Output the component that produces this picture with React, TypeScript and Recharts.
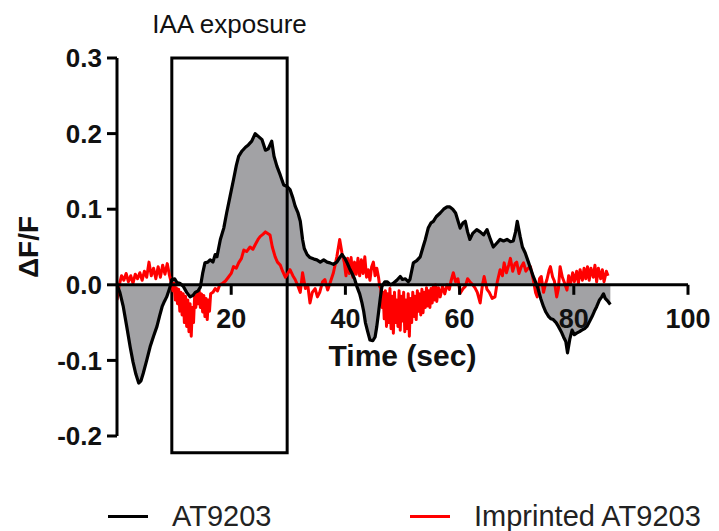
import { Area, ComposedChart, Line, ReferenceArea, ReferenceLine, XAxis, YAxis } from 'recharts';

const FONT = '"Liberation Sans", Arial, Helvetica, sans-serif';

// AT9203 trace (black, grey fill)
const atTime = [
  0, 0.5, 1.1, 1.7, 2.3, 2.8, 3.3, 3.8, 4.2, 4.6, 5.2, 5.8, 6.4, 7.0, 7.5, 7.9, 8.3, 8.7, 9.2, 9.6,
  10.1, 10.5, 11.0, 11.6, 12.2, 12.8, 13.3, 13.7, 14.2, 14.6, 15.0, 15.4, 15.9, 16.3, 16.8, 17.2, 17.5,
  18.1, 18.7, 19.2, 19.8, 20.4, 20.9, 21.3, 21.9, 22.5, 23.0, 23.6, 24.2, 24.8, 25.4, 26.0, 26.5, 27.1,
  27.5, 28.0, 28.6, 29.2, 29.8, 30.3, 30.8, 31.2, 31.7, 32.1, 32.5, 32.8, 33.3, 33.8, 34.5, 35.0, 35.6,
  36.2, 36.8, 37.3, 37.9, 38.5, 39.0, 39.4, 39.9, 40.3, 40.7, 41.1, 41.6, 42.0, 42.5, 42.9, 43.2, 43.5,
  43.9, 44.3, 44.8, 45.2, 45.5, 45.8, 46.1, 46.4, 46.9, 47.3, 47.9, 48.4, 49.0, 49.6, 50.0, 50.5, 51.0,
  51.3, 51.9, 52.5, 53.1, 53.6, 54.0, 54.5, 55.0, 55.4, 55.9, 56.6, 57.2, 57.8, 58.3, 58.8, 59.3, 60.1,
  60.6, 61.0, 61.4, 61.8, 62.3, 63.0, 63.6, 64.2, 64.8, 65.4, 65.9, 66.5, 67.1, 67.7, 68.3, 68.9, 69.4,
  69.8, 70.1, 70.6, 71.0, 71.5, 72.1, 72.5, 72.9, 73.4, 73.8, 74.2, 74.7, 75.1, 75.6, 76.0, 76.4, 76.9,
  77.3, 77.8, 78.2, 78.6, 78.9, 79.3, 79.7, 80.1, 80.5, 81.0, 81.4, 81.9, 82.3, 82.8, 83.2, 83.6, 84.0,
  84.5, 84.9, 85.2, 85.5, 86.0, 86.4,
];
const atValue = [
  0, -0.01, -0.029, -0.055, -0.082, -0.102, -0.118, -0.13, -0.127, -0.117, -0.1, -0.082, -0.068, -0.055, -0.04, -0.029, -0.022, -0.016, -0.005, 0.007,
  0.008, 0.003, 0.002, -0.002, -0.01, -0.016, -0.014, -0.01, -0.008, -0.003, 0.015, 0.029, 0.03, 0.033, 0.03, 0.04, 0.037,
  0.06, 0.075, 0.095, 0.117, 0.139, 0.158, 0.17, 0.177, 0.182, 0.185, 0.19, 0.2, 0.196, 0.192, 0.178, 0.18, 0.19,
  0.17, 0.157, 0.145, 0.132, 0.13, 0.126, 0.115, 0.104, 0.095, 0.084, 0.06, 0.048, 0.04, 0.036, 0.034, 0.033, 0.03,
  0.033, 0.03, 0.029, 0.027, 0.03, 0.036, 0.04, 0.035, 0.029, 0.022, 0.016, 0.008, -0.002, -0.012, -0.024, -0.035, -0.05,
  -0.062, -0.073, -0.074, -0.069, -0.055, -0.037, -0.018, -0.002, 0.004, 0.004, 0.0, 0.002, 0.006, 0.011, 0.007, 0.008, 0.004,
  0.007, 0.029, 0.032, 0.037, 0.05, 0.06, 0.075, 0.082, 0.084, 0.09, 0.095, 0.1, 0.103, 0.103, 0.1, 0.095, 0.075,
  0.082, 0.084, 0.07, 0.06, 0.068, 0.073, 0.07, 0.066, 0.073, 0.06, 0.05, 0.055, 0.06, 0.058, 0.06, 0.057, 0.058,
  0.07, 0.084, 0.064, 0.05, 0.042, 0.029, 0.02, 0.011, 0.002, -0.007, -0.018, -0.029, -0.036, -0.042, -0.045, -0.046, -0.05,
  -0.055, -0.062, -0.069, -0.075, -0.09, -0.072, -0.06, -0.066, -0.064, -0.062, -0.06, -0.058, -0.055, -0.048, -0.042, -0.035, -0.029,
  -0.02, -0.016, -0.012, -0.018, -0.022, -0.026,
];

// Imprinted AT9203 trace (red), ten samples per row
const impTime = [
  0.0, 0.4, 0.8, 1.2, 1.6, 2.0, 2.4, 2.8, 3.2, 3.6,
  4.0, 4.4, 4.8, 5.2, 5.6, 6.0, 6.4, 6.8, 7.2, 7.6,
  8.0, 8.4, 8.8, 9.2, 9.6, 9.8, 10.0, 10.2, 10.4, 10.6,
  10.8, 11.0, 11.2, 11.4, 11.6, 11.8, 12.0, 12.2, 12.4, 12.6,
  12.8, 13.0, 13.2, 13.4, 13.6, 13.8, 14.0, 14.2, 14.4, 14.6,
  14.8, 15.0, 15.2, 15.4, 15.6, 15.8, 16.0, 16.2, 16.4, 16.8,
  17.2, 17.6, 18.0, 18.5, 19.0, 19.5, 20.0, 20.4, 20.9, 21.3,
  21.8, 22.2, 22.7, 23.3, 23.8, 24.2, 24.7, 25.1, 25.6, 26.0,
  26.4, 26.8, 27.2, 27.7, 28.1, 28.6, 29.0, 29.5, 29.9, 30.3,
  30.8, 31.2, 31.6, 32.1, 32.5, 33.0, 33.4, 33.8, 34.2, 34.7,
  35.1, 35.5, 36.0, 36.4, 36.9, 37.3, 37.9, 38.5, 39.0, 39.4,
  39.8, 40.1, 40.4, 40.7, 41.0, 41.3, 41.6, 41.9, 42.2, 42.5,
  42.8, 43.1, 43.4, 43.7, 44.0, 44.3, 44.6, 44.9, 45.2, 45.5,
  45.8, 46.0, 46.2, 46.4, 46.6, 46.8, 47.0, 47.2, 47.4, 47.6,
  47.8, 48.0, 48.2, 48.4, 48.6, 48.8, 49.0, 49.2, 49.4, 49.6,
  49.8, 50.0, 50.2, 50.4, 50.6, 50.8, 51.0, 51.2, 51.4, 51.6,
  51.8, 52.0, 52.2, 52.4, 52.6, 52.8, 53.0, 53.2, 53.4, 53.6,
  53.8, 54.0, 54.2, 54.4, 54.6, 54.8, 55.0, 55.2, 55.4, 55.6,
  55.8, 56.0, 56.3, 56.6, 57.0, 57.4, 57.8, 58.2, 58.5, 58.9,
  59.3, 59.7, 60.1, 60.6, 61.0, 61.4, 61.8, 62.3, 62.7, 63.1,
  63.6, 64.0, 64.3, 64.8, 65.2, 65.7, 66.2, 66.6, 67.1, 67.5,
  67.8, 68.2, 68.6, 68.9, 69.3, 69.7, 70.0, 70.4, 70.8, 71.2,
  71.6, 72.0, 72.4, 72.9, 73.3, 73.6, 74.0, 74.3, 74.7, 75.0,
  75.3, 75.7, 75.9, 76.3, 76.6, 77.0, 77.3, 77.6, 78.0, 78.3,
  78.8, 79.1, 79.4, 79.8, 80.1, 80.5, 80.8, 81.1, 81.5, 81.8,
  82.1, 82.4, 82.7, 83.0, 83.4, 83.7, 84.0, 84.3, 84.7, 85.0,
  85.3, 85.7, 86.0,
];
const impValue = [
  -0.02, 0.0, 0.012, 0.006, 0.015, 0.004, 0.012, 0.002, 0.014, 0.008,
  0.016, 0.006, 0.018, 0.01, 0.03, 0.012, 0.022, 0.008, 0.024, 0.01,
  0.026, 0.014, 0.028, 0.012, 0.0, -0.008, 0.002, -0.02, -0.004, -0.025,
  -0.006, -0.035, -0.01, -0.04, -0.012, -0.05, -0.015, -0.055, -0.02, -0.062,
  -0.025, -0.068, -0.03, -0.05, -0.015, -0.03, -0.01, -0.025, -0.008, -0.03,
  -0.012, -0.036, -0.014, -0.042, -0.018, -0.046, -0.02, -0.035, -0.012, -0.01,
  -0.005, -0.008, 0.0, 0.002, 0.005, 0.01, 0.015, 0.024, 0.022, 0.029,
  0.035, 0.046, 0.044, 0.05, 0.047, 0.053, 0.06, 0.064, 0.067, 0.07,
  0.068, 0.066, 0.05, 0.037, 0.03, 0.026, 0.018, 0.01, 0.015, 0.02,
  0.012, 0.007, 0.0, -0.01, 0.016, -0.005, 0.0, -0.024, -0.01, -0.005,
  -0.016, -0.01, 0.004, 0.007, -0.007, 0.002, 0.016, 0.037, 0.06, 0.042,
  0.03, 0.012, 0.035, 0.015, 0.036, 0.01, 0.03, 0.014, 0.035, 0.012,
  0.033, 0.015, 0.037, 0.01, 0.02, 0.006, 0.024, 0.03, 0.012, 0.022,
  0.01, -0.002, -0.005, -0.03, -0.01, -0.045, -0.008, -0.055, -0.012, -0.05,
  -0.005, -0.058, -0.015, -0.064, -0.01, -0.05, -0.02, -0.055, -0.008, -0.06,
  -0.015, -0.048, -0.01, -0.062, -0.02, -0.058, -0.012, -0.068, -0.018, -0.05,
  -0.01, -0.042, -0.015, -0.046, -0.008, -0.035, -0.012, -0.04, -0.006, -0.037,
  -0.01, -0.03, -0.004, -0.028, -0.008, -0.03, -0.005, -0.024, -0.002, -0.02,
  0.0, -0.022, -0.004, -0.016, -0.002, -0.012, 0.0, -0.006, 0.005, 0.016,
  0.004, 0.008, -0.011, -0.005, -0.002, 0.008, 0.004, 0.0, -0.004, -0.01,
  -0.024, 0.0, 0.011, -0.006, -0.01, -0.018, -0.016, 0.004, 0.02, 0.012,
  0.029, 0.016, 0.026, 0.035, 0.018, 0.028, 0.03, 0.015, 0.024, 0.029,
  0.018, 0.022, 0.024, 0.007, -0.01, -0.016, 0.008, 0.011, -0.01, 0.0,
  0.007, 0.02, 0.024, 0.01, 0.005, -0.016, -0.005, 0.024, 0.01, 0.004,
  -0.007, 0.012, 0.0, 0.016, 0.004, 0.018, 0.002, 0.02, 0.006, 0.022,
  0.008, 0.024, 0.006, 0.022, 0.01, 0.026, 0.004, 0.022, 0.008, 0.02,
  0.004, 0.018, 0.012,
];

const xTicks = [20, 40, 60, 80, 100];
const yTicks = [-0.2, -0.1, 0, 0.1, 0.2, 0.3];
const exposure = { start: 9.6, end: 29.8, bottom: -0.222, top: 0.3 };

const atData = atTime.map((t, i) => ({ t, v: atValue[i] }));
const impData = impTime.map((t, i) => ({ t, v: impValue[i] }));

const W = 719;
const H = 531;
const TOP = 58;
const BOTTOM = 95;
const Y_MIN = -0.2;
const Y_MAX = 0.3;
const PLOT_H = H - TOP - BOTTOM;
// x axis sits on the zero line, not at the bottom
const ZERO_Y = TOP + (PLOT_H * Y_MAX) / (Y_MAX - Y_MIN);

function XTick({ x, payload }: any) {
  return (
    <g>
      <line x1={x} x2={x} y1={ZERO_Y} y2={ZERO_Y + 10} stroke="#000" strokeWidth={3} />
      <text x={x} y={ZERO_Y + 43} textAnchor="middle" fontSize={27} fontWeight="bold" fill="#111" fontFamily={FONT}>
        {payload.value}
      </text>
    </g>
  );
}

function YLabel({ viewBox }: any) {
  const x = viewBox.x + 38;
  const y = viewBox.y + viewBox.height / 2;
  return (
    <text x={x} y={y} transform={`rotate(-90, ${x}, ${y})`} textAnchor="middle" fontSize={28} fontWeight="bold" fill="#111" fontFamily={FONT}>
      ΔF/F
    </text>
  );
}

const legendItems = [
  { name: 'AT9203', color: '#000', left: 108 },
  { name: 'Imprinted AT9203', color: '#ff0000', left: 410 },
];

export default function App() {
  return (
    <div style={{ position: 'absolute', left: 0, top: 0, width: W, height: H, background: '#fff', fontFamily: FONT }}>
      <ComposedChart width={W} height={H} margin={{ top: TOP, right: 31, bottom: BOTTOM - 1, left: 0 }}>
        <XAxis
          dataKey="t"
          type="number"
          domain={[0, 100]}
          ticks={xTicks}
          height={1}
          axisLine={false}
          tickLine={false}
          tick={<XTick />}
          allowDataOverflow
        />
        <YAxis
          type="number"
          domain={[Y_MIN, Y_MAX]}
          ticks={yTicks}
          width={117}
          tickFormatter={(v: number) => v.toFixed(1)}
          axisLine={{ stroke: '#000', strokeWidth: 3 }}
          tickLine={{ stroke: '#000', strokeWidth: 3 }}
          tickSize={10}
          tickMargin={5}
          tick={{ fontSize: 26, fontWeight: 'bold', fill: '#111', fontFamily: FONT }}
          label={<YLabel />}
        />
        <Area
          data={atData}
          dataKey="v"
          type="linear"
          baseValue={0}
          stroke="none"
          fill="#a2a2a5"
          fillOpacity={1}
          isAnimationActive={false}
        />
        <ReferenceArea
          x1={exposure.start}
          x2={exposure.end}
          y1={exposure.bottom}
          y2={exposure.top}
          ifOverflow="visible"
          fill="none"
          stroke="#000"
          strokeWidth={3}
          label={{ value: 'IAA exposure', position: 'top', offset: 25, fontSize: 26, fill: '#111', fontFamily: FONT }}
        />
        <Line
          data={impData}
          dataKey="v"
          type="linear"
          stroke="#ff0000"
          strokeWidth={3}
          strokeLinejoin="round"
          dot={false}
          activeDot={false}
          isAnimationActive={false}
        />
        <Line
          data={atData}
          dataKey="v"
          type="linear"
          stroke="#000"
          strokeWidth={3.2}
          strokeLinejoin="round"
          dot={false}
          activeDot={false}
          isAnimationActive={false}
        />
        <ReferenceLine
          y={0}
          stroke="#000"
          strokeWidth={3}
          label={{ value: 'Time (sec)', position: 'bottom', offset: 60, fontSize: 30, fontWeight: 'bold', fill: '#111', fontFamily: FONT }}
        />
      </ComposedChart>
      {legendItems.map((it) => (
        <div key={it.name} style={{ position: 'absolute', left: it.left, top: 501, height: 30, display: 'flex', alignItems: 'center' }}>
          <div style={{ width: 40, height: 3, background: it.color, marginRight: 24 }} />
          <span style={{ fontSize: 29, lineHeight: '30px', color: '#222' }}>{it.name}</span>
        </div>
      ))}
    </div>
  );
}
